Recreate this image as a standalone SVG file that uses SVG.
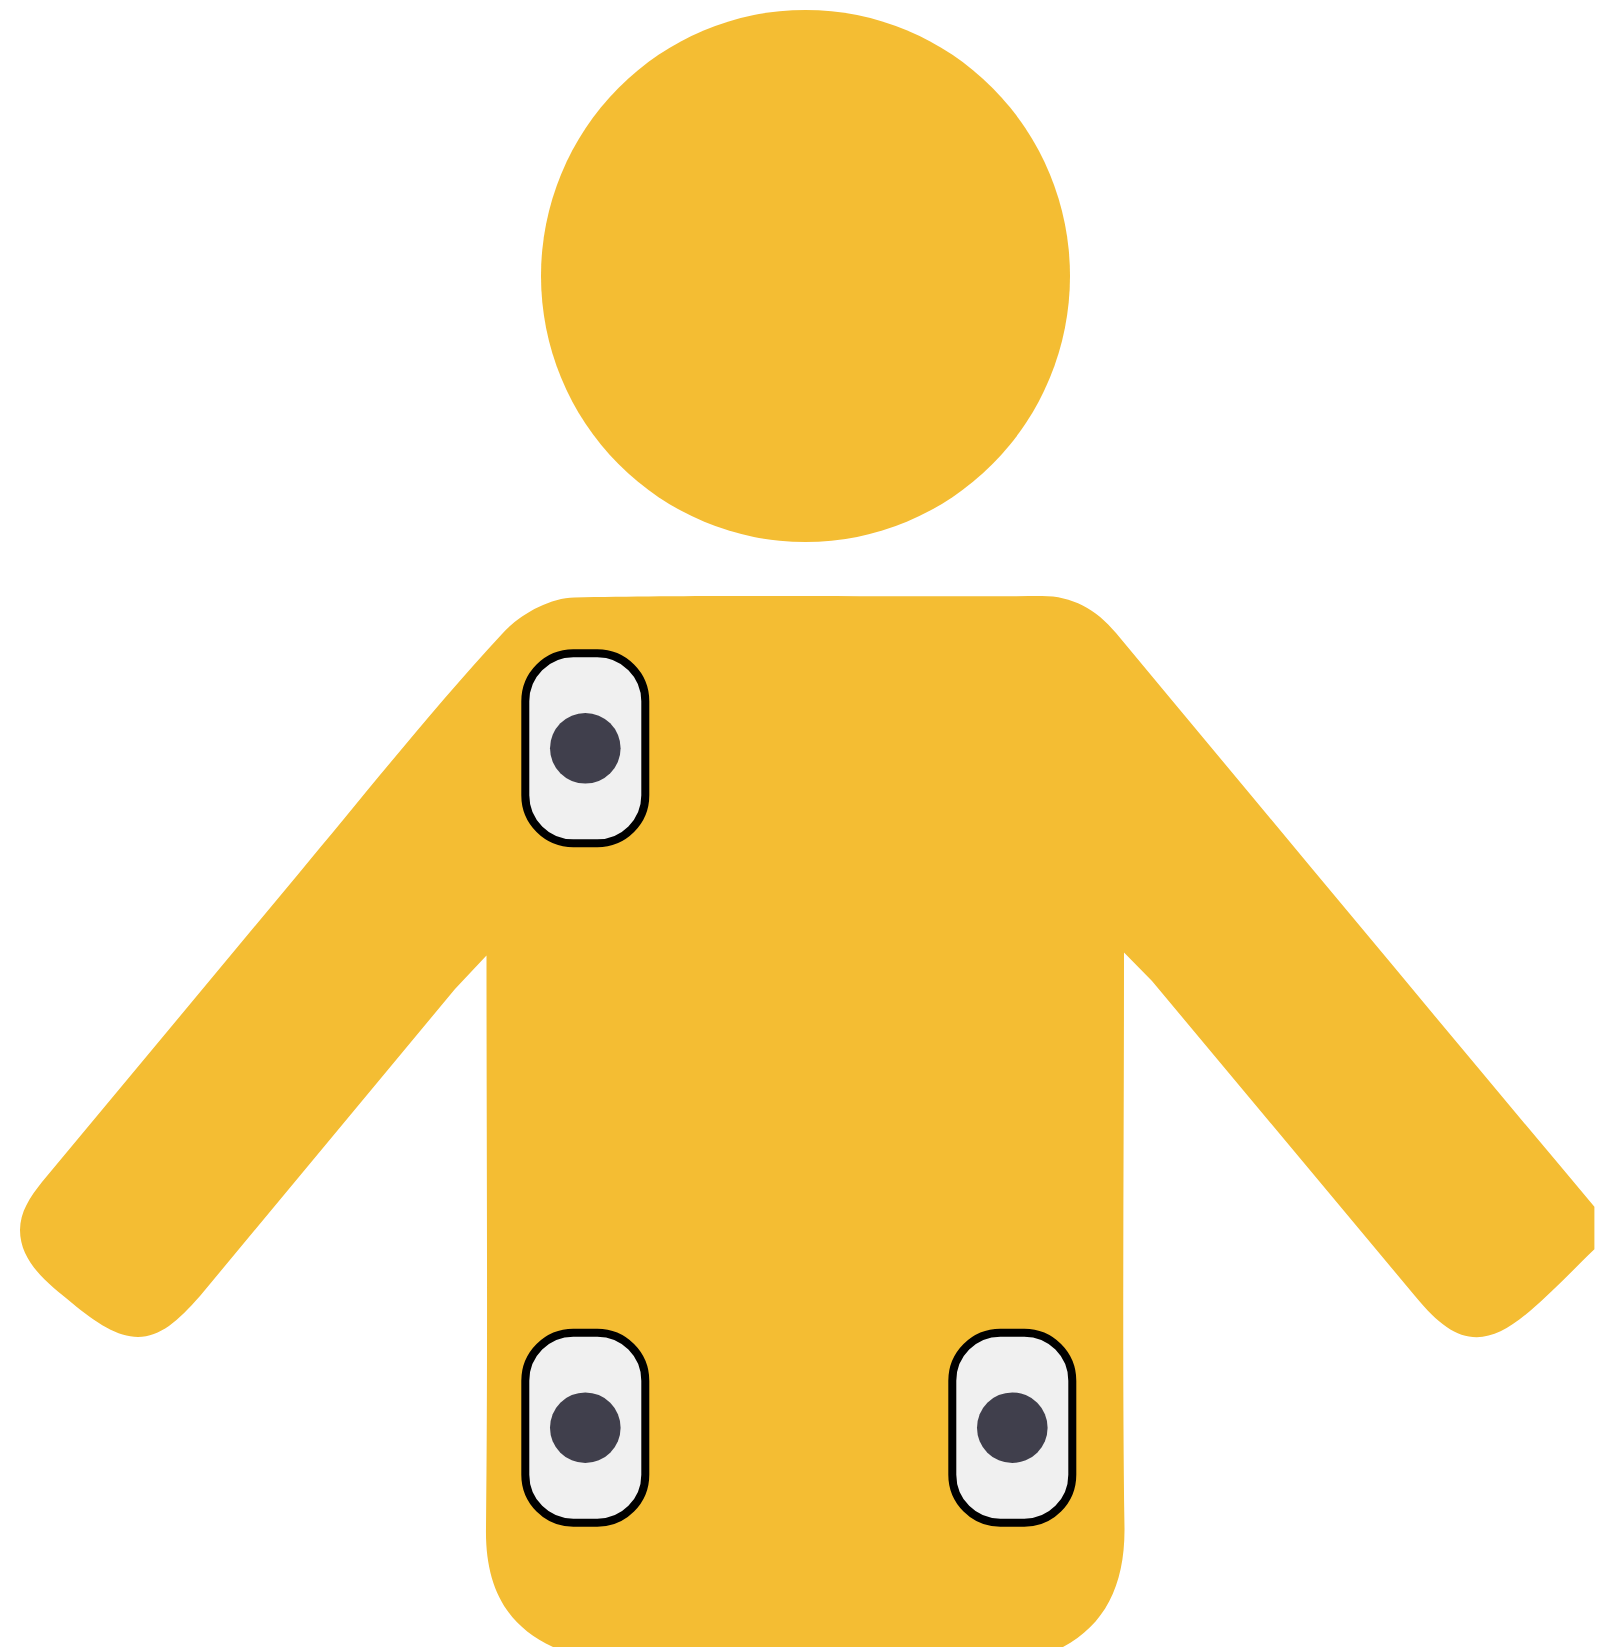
<svg xmlns="http://www.w3.org/2000/svg" width="1609" height="1647" viewBox="0 0 1609 1647">
<style>
.fig{fill:#f4bd33}
.pad{fill:#f0f0f0;stroke:#000;stroke-width:8}
.dot{fill:#403f4c}
</style>
<rect width="1609" height="1647" fill="#fff"/>
<g id="head"><ellipse class="fig" cx="805.5" cy="276" rx="264.5" ry="266"/></g>
<g id="body"><path class="fig" d="M574.5 597.5C700 594.5 900 597 1042 596C1072 596 1096 609 1116 633C1280 830 1440 1023 1594.4 1206.7V1249.3C1570 1273 1550 1294 1530 1311C1510 1328 1494 1337 1476.7 1337.3C1456 1337 1438 1324 1415 1296L1152 981L1124 952.5C1124 1150 1122 1350 1124.5 1528C1125 1585 1105 1625 1063 1647H553C505 1625 485 1585 486 1528C488 1350 486.500 1150 486.500 955.5L455 989L200 1296C178 1321 160 1337 138 1337C118 1337 96 1323 72 1303C50 1285 20 1263 20 1230C20 1212 30 1197 42 1182L300 872C360 800 430 712 502 634C518 616 548 598 574.5 597.5Z"/></g>
<g id="sensor-1"><rect class="pad" x="525.3" y="653.3" width="120" height="190" rx="48"/><circle class="dot" cx="585.3" cy="748.3" r="35.3"/></g>
<g id="sensor-2"><rect class="pad" x="525.3" y="1332.7" width="120" height="190" rx="48"/><circle class="dot" cx="585.3" cy="1427.7" r="35.3"/></g>
<g id="sensor-3"><rect class="pad" x="952.3" y="1332.7" width="120" height="190" rx="48"/><circle class="dot" cx="1012.3" cy="1427.7" r="35.3"/></g>
<g id="connectors"/>
</svg>
